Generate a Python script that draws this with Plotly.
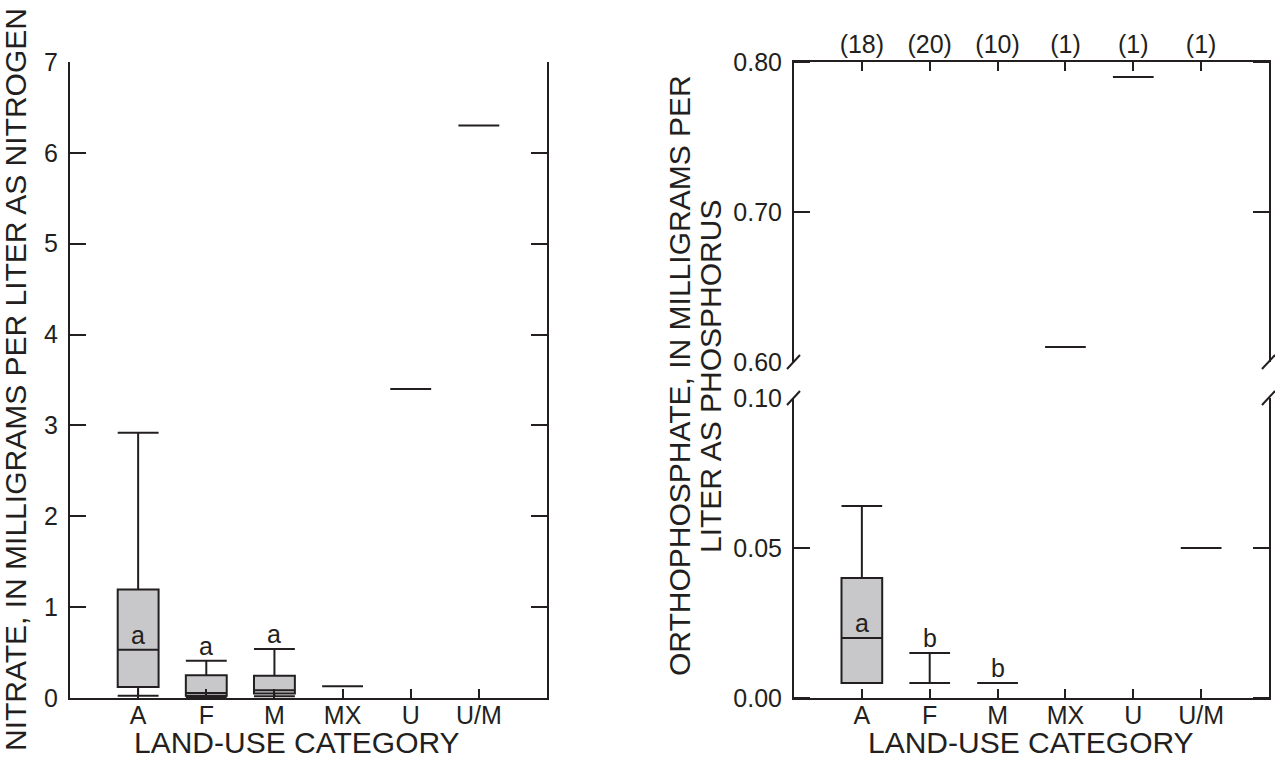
import plotly.graph_objects as go

# ---------------- data ----------------
categories = ["A", "F", "M", "MX", "U", "U/M"]
counts = [18, 20, 10, 1, 1, 1]

# Nitrate, mg/L as N
no3_lower = [0.025, 0.01, 0.02, 0.13, 3.40, 6.30]
no3_q1 = [0.12, 0.025, 0.05, 0.13, 3.40, 6.30]
no3_median = [0.53, 0.055, 0.085, 0.13, 3.40, 6.30]
no3_q3 = [1.195, 0.25, 0.245, 0.13, 3.40, 6.30]
no3_upper = [2.92, 0.41, 0.54, 0.13, 3.40, 6.30]
no3_groups = ["a", "a", "a", "", "", ""]
no3_group_at = ["median", "upper", "upper", "", "", ""]

# Orthophosphate, mg/L as P
po4_lower = [0.005, 0.005, 0.005, 0.61, 0.79, 0.05]
po4_q1 = [0.005, 0.005, 0.005, 0.61, 0.79, 0.05]
po4_median = [0.02, 0.005, 0.005, 0.61, 0.79, 0.05]
po4_q3 = [0.04, 0.005, 0.005, 0.61, 0.79, 0.05]
po4_upper = [0.064, 0.015, 0.005, 0.61, 0.79, 0.05]
po4_groups = ["a", "b", "b", "", "", ""]
po4_group_at = ["median", "upper", "upper", "", "", ""]

no3_ticks = [0, 1, 2, 3, 4, 5, 6, 7]
po4_low_ticks = [0.0, 0.05, 0.10]
po4_high_ticks = [0.60, 0.70, 0.80]
po4_break = 0.60

# ---------------- style ----------------
INK = "#231f20"
FILL = "#c8c8ca"
FONT = "Liberation Sans, Arial, sans-serif"
TICK_FS = 25
TITLE_FS = 30

W, H = 1275, 762
def px_x(p):
    return p / W
def px_y(p):
    return 1 - p / H

left_dom = [px_x(70), px_x(547)]
right_dom = [px_x(794), px_x(1269)]
full_y = [px_y(698), px_y(62)]
low_y = [px_y(698), px_y(398)]
high_y = [px_y(362), px_y(62)]

pos = list(range(len(categories)))
count_text = ["(%d)" % c for c in counts]

fig = go.Figure()

box_style = dict(
    boxpoints=False, width=0.6, whiskerwidth=1,
    fillcolor=FILL, line=dict(color=INK, width=2),
    showlegend=False, hoverinfo="skip",
)

# left panel
fig.add_trace(go.Box(
    x=pos, q1=no3_q1, median=no3_median, q3=no3_q3,
    lowerfence=no3_lower, upperfence=no3_upper,
    xaxis="x", yaxis="y", **box_style))

# right panel (split across the axis break)
def subset(idx):
    return dict(
        x=[pos[i] for i in idx],
        q1=[po4_q1[i] for i in idx], median=[po4_median[i] for i in idx],
        q3=[po4_q3[i] for i in idx], lowerfence=[po4_lower[i] for i in idx],
        upperfence=[po4_upper[i] for i in idx])

low_idx = [i for i in pos if po4_upper[i] < po4_break]
high_idx = [i for i in pos if po4_upper[i] >= po4_break]
fig.add_trace(go.Box(xaxis="x3", yaxis="y3", **subset(low_idx), **box_style))
fig.add_trace(go.Box(xaxis="x4", yaxis="y4", **subset(high_idx), **box_style))

axis_common = dict(
    showline=True, linecolor=INK, linewidth=2, showgrid=False, zeroline=False,
    automargin=False,
    tickcolor=INK, tickwidth=2, tickfont=dict(family=FONT, size=TICK_FS, color=INK),
)

fig.update_layout(
    width=W, height=H, margin=dict(l=0, r=0, t=0, b=0, autoexpand=False),
    paper_bgcolor="white", plot_bgcolor="white",
    font=dict(family=FONT, color=INK),
    xaxis=dict(domain=left_dom, anchor="y", range=[-1, 6], tickmode="array",
               tickvals=pos, ticktext=categories, ticks="inside", ticklen=9,
               ticklabelstandoff=-6, **axis_common),
    xaxis2=dict(overlaying="x", anchor="y", side="top", range=[-1, 6],
                tickmode="array", tickvals=pos, ticktext=count_text,
                ticks="inside", ticklen=9, ticklabelstandoff=-3, **axis_common),
    yaxis=dict(domain=full_y, anchor="x", range=[0, 7], tickmode="array",
               tickvals=no3_ticks, ticks="inside", ticklen=16, mirror="ticks",
               ticklabelstandoff=5, **axis_common),
    xaxis3=dict(domain=right_dom, anchor="y3", range=[-1, 6], tickmode="array",
                tickvals=pos, ticktext=categories, ticks="inside", ticklen=9,
                ticklabelstandoff=-6, **axis_common),
    xaxis4=dict(domain=right_dom, anchor="y4", side="top", range=[-1, 6],
                matches="x3", tickmode="array", tickvals=pos, ticktext=count_text,
                ticks="inside", ticklen=9, ticklabelstandoff=-3, **axis_common),
    yaxis3=dict(domain=low_y, anchor="x3", range=[po4_low_ticks[0], po4_low_ticks[-1]],
                tickmode="array", tickvals=po4_low_ticks, tickformat=".2f",
                ticks="", mirror="ticks", ticklabelstandoff=5,
                minor=dict(tickmode="array", tickvals=po4_low_ticks[:-1], ticks="inside",
                           ticklen=16, tickwidth=2, tickcolor=INK),
                **axis_common),
    yaxis4=dict(domain=high_y, anchor="x4", range=[po4_high_ticks[0], po4_high_ticks[-1]],
                tickmode="array", tickvals=po4_high_ticks, tickformat=".2f",
                ticks="", mirror="ticks", ticklabelstandoff=5,
                minor=dict(tickmode="array", tickvals=po4_high_ticks[1:], ticks="inside",
                           ticklen=16, tickwidth=2, tickcolor=INK),
                **axis_common),
)

# break marks on the orthophosphate axis
for xa in [0, 1]:
    for yref, ya in [("y3 domain", 1), ("y4 domain", 0)]:
        fig.add_shape(type="line", xref="x3 domain", yref=yref,
                      xsizemode="pixel", ysizemode="pixel",
                      xanchor=xa, yanchor=ya, x0=-7, x1=6, y0=-7, y1=7,
                      line=dict(color=INK, width=2))

# group letters
def stat_value(kind, i, med, up):
    return med[i] if kind == "median" else up[i]

for i, g in enumerate(no3_groups):
    if g:
        fig.add_annotation(x=pos[i], y=stat_value(no3_group_at[i], i, no3_median, no3_upper),
                           xref="x", yref="y", text=g, showarrow=False,
                           xanchor="center", yanchor="middle", yshift=15,
                           font=dict(family=FONT, size=TICK_FS, color=INK))
for i, g in enumerate(po4_groups):
    if g:
        fig.add_annotation(x=pos[i], y=stat_value(po4_group_at[i], i, po4_median, po4_upper),
                           xref="x3", yref="y3", text=g, showarrow=False,
                           xanchor="center", yanchor="middle", yshift=15,
                           font=dict(family=FONT, size=TICK_FS, color=INK))

# axis titles
title_font = dict(family=FONT, size=TITLE_FS, color=INK)
anchor = dict(xref="paper", yref="paper", showarrow=False, font=title_font,
              xanchor="center", yanchor="middle")
fig.add_annotation(x=px_x(297), y=px_y(742), text="LAND-USE CATEGORY", **anchor)
fig.add_annotation(x=px_x(1031), y=px_y(742), text="LAND-USE CATEGORY", **anchor)
fig.add_annotation(x=px_x(15), y=px_y(380), textangle=-90,
                   text="NITRATE, IN MILLIGRAMS PER LITER AS NITROGEN", **anchor)
fig.add_annotation(x=px_x(680), y=px_y(376), textangle=-90,
                   text="ORTHOPHOSPHATE, IN MILLIGRAMS PER", **anchor)
fig.add_annotation(x=px_x(710), y=px_y(377), textangle=-90,
                   text="LITER AS PHOSPHORUS", **anchor)

fig.write_html(
    "out.html",
    config={"displayModeBar": False},
    post_script="document.body.style.margin='0';"
                "document.documentElement.style.overflow='hidden';",
)
